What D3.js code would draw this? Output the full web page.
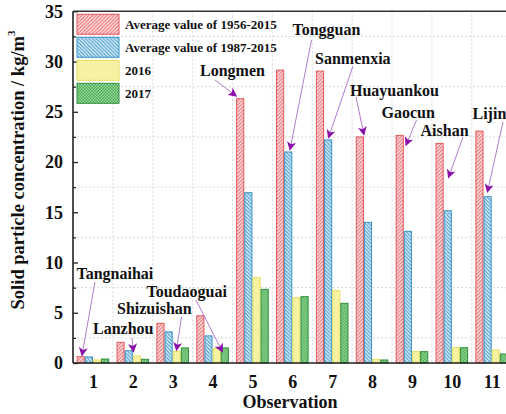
<!DOCTYPE html>
<html>
<head>
<meta charset="utf-8">
<script src="https://cdn.jsdelivr.net/npm/d3@7"></script>
<style>
  html, body { margin: 0; padding: 0; background: #fff; overflow: hidden; }
  svg { display: block; font-family: "Liberation Serif", "Times New Roman", serif; font-weight: bold; }
</style>
</head>
<body>
<svg id="chart" width="506" height="414"></svg>
<script>
// Observation points along the river (1..11)
const observations = [1, 2, 3, 4, 5, 6, 7, 8, 9, 10, 11];
const stations = ["Tangnaihai", "Lanzhou", "Shizuishan", "Toudaoguai", "Longmen", "Tongguan",
                  "Sanmenxia", "Huayuankou", "Gaocun", "Aishan", "Lijin"];

// Series names and values (kg/m3)
const seriesNames = ["Average value of 1956-2015", "Average value of 1987-2015", "2016", "2017"];
const avg1956 = [0.63, 2.06, 3.95, 4.7, 26.3, 29.15, 29.05, 22.5, 22.65, 21.85, 23.08];
const avg1987 = [0.6, 1.22, 3.1, 2.7, 16.95, 21.0, 22.2, 14.0, 13.1, 15.15, 16.55];
const y2016   = [0.3, 0.7, 1.15, 1.45, 8.5, 6.5, 7.2, 0.37, 1.13, 1.52, 1.3];
const y2017   = [0.4, 0.37, 1.5, 1.5, 7.33, 6.6, 5.94, 0.3, 1.13, 1.52, 0.9];
const seriesValues = [avg1956, avg1987, y2016, y2017];

const yTicks = [0, 5, 10, 15, 20, 25, 30, 35];
const yMinorTicks = [2.5, 7.5, 12.5, 17.5, 22.5, 27.5, 32.5];

// Annotation layout: the bar each station label points at (tip offset from that bar's top centre),
// plus where the label and the arrow tail sit
const annotationLayout = [
  { group: 1,  series: 0, tipDx: 1.2,  tipDy: -1,  labelX: 76.5,  labelY: 279,  tailX: 95,    tailY: 282 },
  { group: 2,  series: 1, tipDx: 4.7,  tipDy: 1,   labelX: 93,    labelY: 334,  tailX: 132,   tailY: 338 },
  { group: 3,  series: 2, tipDx: -0.3, tipDy: -1,  labelX: 117,   labelY: 314,  tailX: 181.5, tailY: 317 },
  { group: 4,  series: 3, tipDx: -2.3, tipDy: 4,   labelX: 146.5, labelY: 296.5,tailX: 196,   tailY: 300 },
  { group: 5,  series: 0, tipDx: -3.8, tipDy: -2.5,labelX: 200,   labelY: 76,   tailX: 215,   tailY: 80 },
  { group: 6,  series: 1, tipDx: 1.7,  tipDy: -2,  labelX: 292.5, labelY: 35,   tailX: 311.5, tailY: 40 },
  { group: 7,  series: 1, tipDx: 0.3,  tipDy: -2,  labelX: 315,   labelY: 64,   tailX: 353,   tailY: 66 },
  { group: 8,  series: 0, tipDx: 4.1,  tipDy: -2,  labelX: 350,   labelY: 96,   tailX: 356,   tailY: 97 },
  { group: 9,  series: 0, tipDx: 6.2,  tipDy: 10,  labelX: 381.5, labelY: 118,  tailX: 416.5, tailY: 120 },
  { group: 10, series: 1, tipDx: 0.7,  tipDy: -33, labelX: 420.5, labelY: 135.5,tailX: 463,   tailY: 137 },
  { group: 11, series: 1, tipDx: -0.2, tipDy: -4.5,labelX: 472.5, labelY: 119,  tailX: 503,   tailY: 122 }
];

const svg = d3.select("#chart");
const W = 506, H = 414;
const plot = { left: 73, top: 11.3, bottom: 363, right: 551.5 };

const x = d3.scaleLinear().domain([0.5, 12.5]).range([plot.left, plot.right]);
const y = d3.scaleLinear().domain([0, 35]).range([plot.bottom, plot.top]);
const sub = d3.scaleBand().domain(d3.range(seriesNames.length)).range([-16.3, 16.3]).padding(0);

// Fill patterns
const defs = svg.append("defs");
function hatch(id, bg, line, dir) {
  const p = defs.append("pattern").attr("id", id).attr("patternUnits", "userSpaceOnUse")
    .attr("width", 3.6).attr("height", 3.6);
  p.append("rect").attr("width", 3.6).attr("height", 3.6).attr("fill", bg);
  const d = dir > 0 ? "M-0.9,0.9 L0.9,-0.9 M0,3.6 L3.6,0 M2.7,4.5 L4.5,2.7"
                    : "M-0.9,2.7 L0.9,4.5 M0,0 L3.6,3.6 M2.7,-0.9 L4.5,0.9";
  p.append("path").attr("d", d).attr("stroke", line).attr("stroke-width", 1.3);
}
function checker(id, bg, dot) {
  const p = defs.append("pattern").attr("id", id).attr("patternUnits", "userSpaceOnUse")
    .attr("width", 3).attr("height", 3);
  p.append("rect").attr("width", 3).attr("height", 3).attr("fill", bg);
  p.append("rect").attr("width", 1.5).attr("height", 1.5).attr("fill", dot);
  p.append("rect").attr("x", 1.5).attr("y", 1.5).attr("width", 1.5).attr("height", 1.5).attr("fill", dot);
}
hatch("pRed", "#fff3f3", "#ea7174", 1);
hatch("pBlue", "#f2fafd", "#4a9fd0", -1);
checker("pYellow", "#f4ee84", "#faf6c2");
checker("pGreen", "#3fa84c", "#a9dca5");

const fills = ["url(#pRed)", "url(#pBlue)", "url(#pYellow)", "url(#pGreen)"];
const strokes = ["#e4585c", "#3b93c6", "#e8df5c", "#2f8f3c"];

// Grid lines (dashed, at half steps)
const grid = svg.append("g").attr("stroke", "#cfcfcf").attr("stroke-width", 0.8).attr("stroke-dasharray", "2,2");
grid.selectAll("line.h").data(yMinorTicks).join("line")
  .attr("x1", plot.left).attr("x2", W).attr("y1", d => y(d)).attr("y2", d => y(d));
grid.selectAll("line.v").data(observations.map(d => d + 0.5)).join("line")
  .attr("x1", d => x(d)).attr("x2", d => x(d)).attr("y1", plot.top).attr("y2", plot.bottom);

// Bars
const groups = svg.append("g").selectAll("g").data(observations).join("g")
  .attr("transform", d => `translate(${x(d)},0)`);
groups.selectAll("rect").data((d, i) => seriesValues.map((vals, s) => ({ s, v: vals[i] }))).join("rect")
  .attr("x", d => sub(d.s) + 0.5)
  .attr("width", sub.bandwidth() - 1)
  .attr("y", d => y(d.v))
  .attr("height", d => y(0) - y(d.v))
  .attr("fill", d => fills[d.s])
  .attr("stroke", d => strokes[d.s])
  .attr("stroke-width", 1);

// Axes
const axisG = svg.append("g");
const yAxis = d3.axisLeft(y).tickValues(yTicks).tickSize(-5).tickPadding(10).tickFormat(d3.format("d"));
const yg = axisG.append("g").attr("transform", `translate(${plot.left},0)`).call(yAxis);
yg.select(".domain").remove();
yg.selectAll(".tick line").attr("stroke", "#222").attr("stroke-width", 1.3);
yg.selectAll(".tick text").attr("font-size", 18).attr("font-family", "Liberation Serif").attr("font-weight", "bold").attr("fill", "#111");
const yMinor = d3.axisLeft(y).tickValues(yMinorTicks).tickSize(-3).tickFormat("");
const ygm = axisG.append("g").attr("transform", `translate(${plot.left},0)`).call(yMinor);
ygm.select(".domain").remove();
ygm.selectAll(".tick line").attr("stroke", "#222").attr("stroke-width", 1.2);

const xAxis = d3.axisBottom(x).tickValues(observations).tickSize(0).tickPadding(12).tickFormat(d3.format("d"));
const xg = axisG.append("g").attr("transform", `translate(0,${plot.bottom})`).call(xAxis);
xg.select(".domain").remove();
xg.selectAll(".tick text").attr("font-size", 18).attr("font-family", "Liberation Serif").attr("font-weight", "bold").attr("fill", "#111");

// Frame
axisG.append("line").attr("x1", plot.left).attr("x2", plot.left).attr("y1", plot.top).attr("y2", plot.bottom)
  .attr("stroke", "#222").attr("stroke-width", 1.6);
axisG.append("line").attr("x1", plot.left).attr("x2", W).attr("y1", plot.bottom).attr("y2", plot.bottom)
  .attr("stroke", "#222").attr("stroke-width", 1.6);
axisG.append("line").attr("x1", plot.left).attr("x2", W).attr("y1", plot.top).attr("y2", plot.top)
  .attr("stroke", "#333").attr("stroke-width", 1.6);

// Axis titles
svg.append("text").attr("x", 290).attr("y", 408).attr("text-anchor", "middle")
  .attr("font-size", 18).attr("fill", "#111").text("Observation");
const yt = svg.append("text").attr("transform", "translate(24,170) rotate(-90)").attr("text-anchor", "middle")
  .attr("font-size", 18.5).attr("fill", "#111");
yt.append("tspan").text("Solid particle concentration / kg/m");
yt.append("tspan").attr("font-size", 11).attr("dy", -9).text("3");

// Legend
const legend = svg.append("g");
seriesNames.forEach((name, i) => {
  const ly = 14.3 + i * 23;
  legend.append("rect").attr("x", 77).attr("y", ly).attr("width", 42).attr("height", 20)
    .attr("fill", fills[i]).attr("stroke", strokes[i]).attr("stroke-width", 1);
  legend.append("text").attr("x", 125).attr("y", ly + 14.5).attr("font-size", 13).attr("fill", "#111").text(name);
});

// Station annotations with arrows
defs.append("marker").attr("id", "arrow").attr("viewBox", "0 0 10 10").attr("refX", 9).attr("refY", 5)
  .attr("markerWidth", 9).attr("markerHeight", 9).attr("markerUnits", "userSpaceOnUse").attr("orient", "auto")
  .append("path").attr("d", "M0,0 L10,5 L0,10 L2.5,5 Z").attr("fill", "#8a10a8");

const ann = svg.append("g");
annotationLayout.forEach(a => {
  const gi = a.group - 1;
  const tipX = x(a.group) + sub(a.series) + sub.bandwidth() / 2 + a.tipDx;
  const tipY = y(seriesValues[a.series][gi]) + a.tipDy;
  ann.append("line").attr("x1", a.tailX).attr("y1", a.tailY).attr("x2", tipX).attr("y2", tipY)
    .attr("stroke", "#b27ccc").attr("stroke-width", 1).attr("marker-end", "url(#arrow)");
  ann.append("text").attr("x", a.labelX).attr("y", a.labelY).attr("font-size", 16).attr("fill", "#111")
    .text(stations[gi]);
});
</script>
</body>
</html>
